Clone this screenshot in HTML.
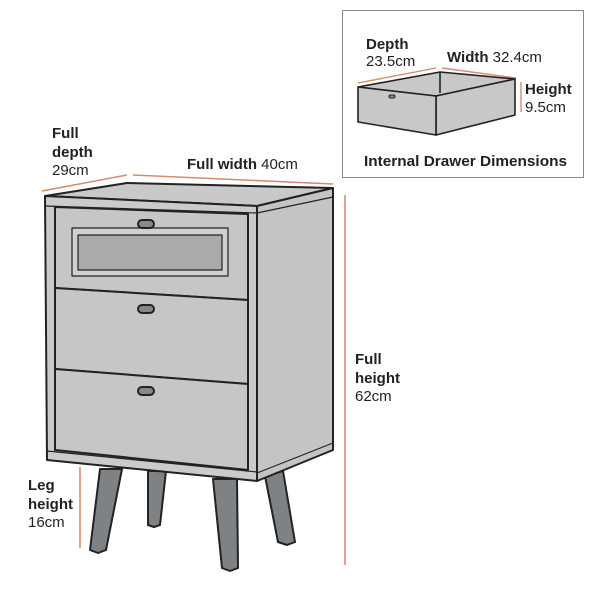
<!DOCTYPE html>
<html><head><style>
html,body{margin:0;padding:0;background:#fff;width:600px;height:598px;overflow:hidden}
svg{display:block}
text{font-family:"Liberation Sans",sans-serif;font-size:15px;fill:#222}
.b{font-weight:bold}
</style></head><body>
<svg width="600" height="598" viewBox="0 0 600 598">
<g stroke="#d98a6c" stroke-width="1.6" fill="none">
<line x1="42" y1="191" x2="127" y2="175"/>
<line x1="133" y1="175" x2="333" y2="184"/>
<line x1="345" y1="195" x2="345" y2="565"/>
<line x1="80" y1="467" x2="80" y2="548"/>
</g>
<g stroke="#222" stroke-width="2" stroke-linejoin="round">
<polygon points="100,469 122,469 106,550 98,553 90,550" fill="#7f8285"/>
<polygon points="148,471 166,471 160,525 154,527 148,525" fill="#7f8285"/>
<polygon points="213,479 237,479 238,568 230,571 222,568" fill="#7f8285"/>
<polygon points="265,476 283,471 295,542 287,545 278,542" fill="#7f8285"/>
<polygon points="45,196 127,183 333,188 257,206" fill="#c9c9c9"/>
<polygon points="257,206 333,188 333,450 257,481" fill="#c4c4c4"/>
<line x1="257" y1="213" x2="333" y2="197" stroke-width="1.2"/>
<line x1="257" y1="473" x2="333" y2="443" stroke-width="1.2"/>
<polygon points="45,196 257,206 257,481 47,460" fill="#cbcbcb"/>
<line x1="45" y1="206" x2="257" y2="213" stroke-width="1.2"/>
<line x1="47" y1="451" x2="257" y2="472" stroke-width="1.2"/>
<polygon points="55,207 248,214 248,300 55,288" fill="#c6c6c6"/>
<polygon points="55,288 248,300 248,384 55,369" fill="#c6c6c6"/>
<polygon points="55,369 248,384 248,470 55,450" fill="#c6c6c6"/>
<rect x="72" y="228" width="156" height="48" fill="#d0d0d0" stroke-width="1.2"/>
<rect x="78" y="235" width="144" height="35" fill="#a9abab" stroke-width="1.2"/>
<g fill="#888">
<rect x="138" y="220" width="16" height="8" rx="4"/>
<rect x="138" y="305" width="16" height="8" rx="4"/>
<rect x="138" y="387" width="16" height="8" rx="4"/>
</g>
</g>
<rect x="342.5" y="10.5" width="241" height="167" fill="none" stroke="#888" stroke-width="1"/>
<g stroke="#d98a6c" stroke-width="1.4">
<line x1="358" y1="83" x2="436" y2="68"/>
<line x1="442" y1="68" x2="516" y2="78"/>
<line x1="521" y1="82" x2="521" y2="112"/>
</g>
<g stroke="#222" stroke-width="1.6" fill="#c8c8c8" stroke-linejoin="round">
<polygon points="358,87 440,72 515,79 436,96"/>
<line x1="440" y1="72" x2="440" y2="93"/>
<polygon points="436,96 515,79 515,115 436,135"/>
<polygon points="358,87 436,96 436,135 358,122"/>
<rect x="389" y="95" width="6" height="3" rx="1.5" fill="#888" stroke-width="1"/>
</g>
<text x="366" y="49" class="b">Depth</text>
<text x="366" y="66">23.5cm</text>
<text x="447" y="62"><tspan class="b">Width</tspan> 32.4cm</text>
<text x="525" y="94" class="b">Height</text>
<text x="525" y="112">9.5cm</text>
<text x="364" y="166" class="b" textLength="203" lengthAdjust="spacingAndGlyphs">Internal Drawer Dimensions</text>
<text x="52" y="138" class="b">Full</text>
<text x="52" y="157" class="b">depth</text>
<text x="52" y="175">29cm</text>
<text x="187" y="169"><tspan class="b">Full width</tspan> 40cm</text>
<text x="355" y="364" class="b">Full</text>
<text x="355" y="383" class="b">height</text>
<text x="355" y="401">62cm</text>
<text x="28" y="490" class="b">Leg</text>
<text x="28" y="509" class="b">height</text>
<text x="28" y="527">16cm</text>
</svg>
</body></html>
